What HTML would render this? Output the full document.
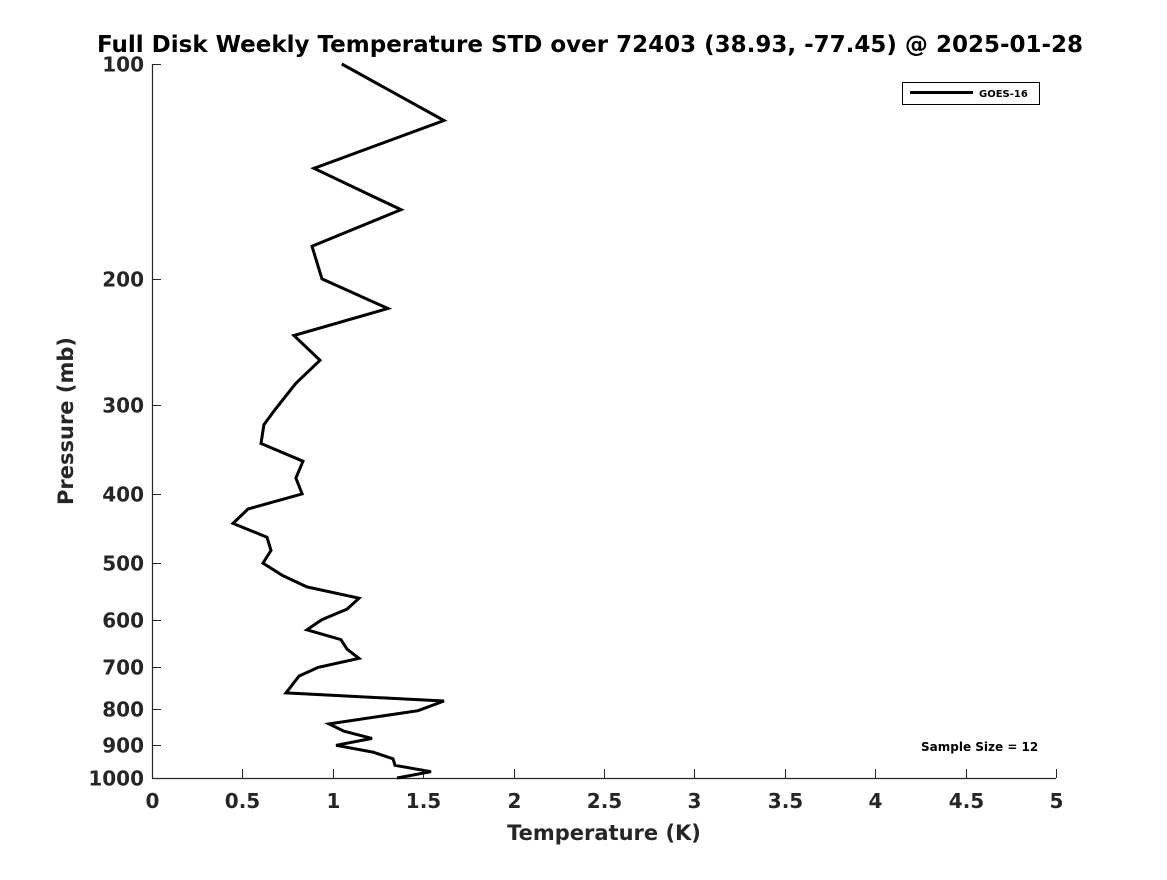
<!DOCTYPE html>
<html><head><meta charset="utf-8"><style>
body{margin:0;background:#fff;}
svg text{font-family:"DejaVu Sans","Liberation Sans",sans-serif;font-weight:bold;}
</style></head><body>
<svg id="chart" width="1167" height="875" viewBox="0 0 1167 875" xmlns="http://www.w3.org/2000/svg">
<rect width="1167" height="875" fill="#fff"/>
<text x="590" y="52" text-anchor="middle" font-size="23" fill="#000">Full Disk Weekly Temperature STD over 72403 (38.93, -77.45) @ 2025-01-28</text>
<g id="axes"></g>
<text x="604" y="840" text-anchor="middle" font-size="21" fill="#262626">Temperature (K)</text>
<text transform="translate(73,421) rotate(-90)" text-anchor="middle" font-size="21" fill="#262626">Pressure (mb)</text>
<g>
<rect x="902.5" y="82.5" width="137" height="22" fill="#fff" stroke="#000" stroke-width="1"/>
<line x1="910" y1="92.5" x2="973" y2="92.5" stroke="#000" stroke-width="3"/>
<text x="979" y="97" font-size="10" fill="#000">GOES-16</text>
</g>
<text x="921" y="751" font-size="12" fill="#000">Sample Size = 12</text>
</svg>
<script>
const pressures=[100,120,140,160,180,200,220,240,260,280,305,320,340,360,380,400,420,440,460,480,500,520,540,560,580,600,620,640,660,680,700,720,760,780,805,840,860,880,900,920,940,960,980,1000];
const goes16=[1.05,1.615,0.896,1.377,0.885,0.94,1.305,0.785,0.929,0.796,0.68,0.619,0.603,0.835,0.796,0.83,0.531,0.448,0.636,0.658,0.614,0.719,0.857,1.145,1.079,0.94,0.857,1.045,1.079,1.145,0.918,0.813,0.741,1.615,1.471,0.979,1.062,1.217,1.018,1.222,1.333,1.344,1.543,1.355];
const xTicks=[0,0.5,1,1.5,2,2.5,3,3.5,4,4.5,5];
const yTicks=[100,200,300,400,500,600,700,800,900,1000];
const L=152,R=1056,T=64,B=778;
const NS='http://www.w3.org/2000/svg';
const xs=v=>L+(v-0)/(5-0)*(R-L);
const ys=p=>T+(Math.log10(p)-2)*(B-T);
const svg=document.getElementById('chart');
const ax=document.getElementById('axes');
function mk(t,a,p){const e=document.createElementNS(NS,t);for(const k in a)e.setAttribute(k,a[k]);(p||ax).appendChild(e);return e;}
let e=mk('line',{x1:L,y1:B+0.5,x2:R,y2:B+0.5,stroke:'#262626','stroke-width':1.2});


e=mk('line',{x1:L+0.5,y1:T,x2:L+0.5,y2:B,stroke:'#262626','stroke-width':1.2});


xTicks.forEach(v=>{const x=Math.round(xs(v))+0.5;
 mk('line',{x1:x,y1:B,x2:x,y2:B-9,stroke:'#262626','stroke-width':1});
 const t=mk('text',{x:x,y:B+30,'text-anchor':'middle','font-size':20,fill:'#262626'});t.textContent=String(v);
 
 });
yTicks.forEach(p=>{const y=Math.round(ys(p))+0.5;
 mk('line',{x1:L,y1:y,x2:L+9,y2:y,stroke:'#262626','stroke-width':1});
 const t=mk('text',{x:L-8,y:y+7,'text-anchor':'end','font-size':20,fill:'#262626'});t.textContent=String(p);
 
 });
const pts=goes16.map((v,i)=>xs(v).toFixed(1)+','+ys(pressures[i]).toFixed(1)).join(' ');
const line=mk('polyline',{points:pts,fill:'none',stroke:'#000','stroke-width':3,'stroke-linejoin':'miter'},svg);


</script>
</body></html>
